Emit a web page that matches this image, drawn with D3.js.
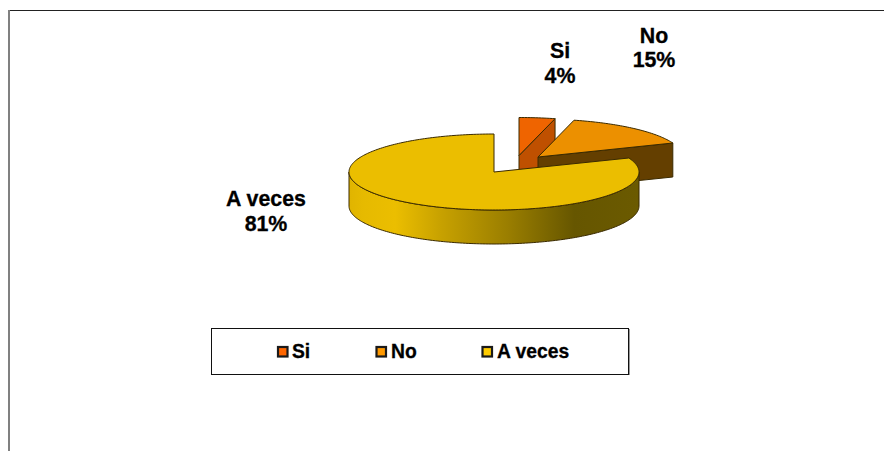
<!DOCTYPE html>
<html><head><meta charset="utf-8">
<script src="https://cdnjs.cloudflare.com/ajax/libs/d3/7.8.5/d3.min.js"></script>
<style>html,body{margin:0;padding:0;background:#fff}svg{display:block}text{font-family:"Liberation Sans",Arial,sans-serif;font-weight:bold;fill:#000;stroke:#000;stroke-width:.3px}</style>
</head><body><div id="c"></div>
<script>
const categories = ["Si", "No", "A veces"];
const values = [4, 15, 81];
const labelText = ["4%", "15%", "81%"];

const W = 884, H = 451;
const topColors = ["#ef6400", "#ec9000", "#ebbe00"];
const wallColors = ["#bf5000", "#643f00", "#645500"];
const legendColors = ["#ff6600", "#ff9900", "#ffcc00"];
const sliceCenters = [[519, 155.5], [538, 157], [494, 172]];
const labelPos = [[560, 58, 83], [654, 43, 67], [266, 206, 231]];
const rx = 145, ry = 38, depth = 34;

const svg = d3.select("#c").append("svg").attr("width", W).attr("height", H);
const defs = svg.append("defs");
const grad = defs.append("linearGradient").attr("id", "wall").attr("gradientUnits", "userSpaceOnUse")
  .attr("x1", 349).attr("x2", 638).attr("y1", 0).attr("y2", 0);
[[0, "#e0b400"], [0.05, "#e6ba00"], [0.16, "#ebbe00"], [0.32, "#c7a100"], [0.55, "#9a7e00"], [0.78, "#665600"], [1, "#6b5a00"]]
  .forEach(s => grad.append("stop").attr("offset", s[0]).attr("stop-color", s[1]));

// frame
svg.append("line").attr("x1", 9).attr("x2", W).attr("y1", 10.5).attr("y2", 10.5).attr("stroke", "#222");
svg.append("line").attr("x1", 9).attr("x2", 9).attr("y1", 10).attr("y2", H).attr("stroke", "#808080").attr("stroke-width", 2);

const arcs = d3.pie().sort(null).startAngle(0).endAngle(2 * Math.PI)(values);
const outline = "#3a2a00";
const line = d3.line();
const pt = (c, a, dz = 0) => [c[0] + rx * Math.sin(a), c[1] - ry * Math.cos(a) + dz];

function rim(c, a0, a1, dz = 0) {
  const n = Math.max(2, Math.ceil((a1 - a0) / 0.02));
  return d3.range(n + 1).map(i => pt(c, a0 + (a1 - a0) * i / n, dz));
}

arcs.forEach((d, i) => {
  const c = sliceCenters[i];
  const g = svg.append("g");
  const a0 = d.startAngle, a1 = d.endAngle;
  // cut face at the slice's end angle, visible only where it turns toward the viewer
  if (a1 < Math.PI) {
    const e = pt(c, a1);
    g.append("path").attr("d", line([c, e, [e[0], e[1] + depth], [c[0], c[1] + depth]]) + "Z")
      .attr("fill", wallColors[i]).attr("stroke", outline).attr("stroke-width", 1);
  }
  // outer wall on the front half
  const f0 = Math.max(a0, Math.PI / 2), f1 = Math.min(a1, 3 * Math.PI / 2);
  if (f1 > f0) {
    const pts = rim(c, f0, f1).concat(rim(c, f0, f1, depth).reverse());
    g.append("path").attr("d", line(pts) + "Z").attr("fill", "url(#wall)").attr("stroke", outline).attr("stroke-width", 1);
  }
  // top face
  g.append("path").attr("d", line([c].concat(rim(c, a0, a1))) + "Z")
    .attr("fill", topColors[i]).attr("stroke", outline).attr("stroke-width", 1).attr("stroke-linejoin", "round");
});

// data labels
categories.forEach((t, i) => {
  const p = labelPos[i];
  const tx = svg.append("g").attr("text-anchor", "middle").style("font-size", "21.33px");
  tx.append("text").attr("x", p[0]).attr("y", p[1]).text(t);
  tx.append("text").attr("x", p[0]).attr("y", p[2]).text(labelText[i]);
});

// legend
svg.append("line").attr("x1", 629.5).attr("x2", 629.5).attr("y1", 329).attr("y2", 375).attr("stroke", "#999");
svg.append("rect").attr("x", 211.5).attr("y", 328.5).attr("width", 417).attr("height", 46).attr("fill", "#fff").attr("stroke", "#111");
const legendX = [278, 376.5, 482.5];
const legendTextX = [292, 391, 497];
categories.forEach((t, i) => {
  svg.append("rect").attr("x", legendX[i]).attr("y", 347).attr("width", 9.5).attr("height", 9.5)
    .attr("fill", legendColors[i]).attr("stroke", "#1a1a1a").attr("stroke-width", 2.2);
  svg.append("text").attr("x", legendTextX[i]).attr("y", 358).style("font-size", "19.3px").text(t);
});
</script></body></html>
